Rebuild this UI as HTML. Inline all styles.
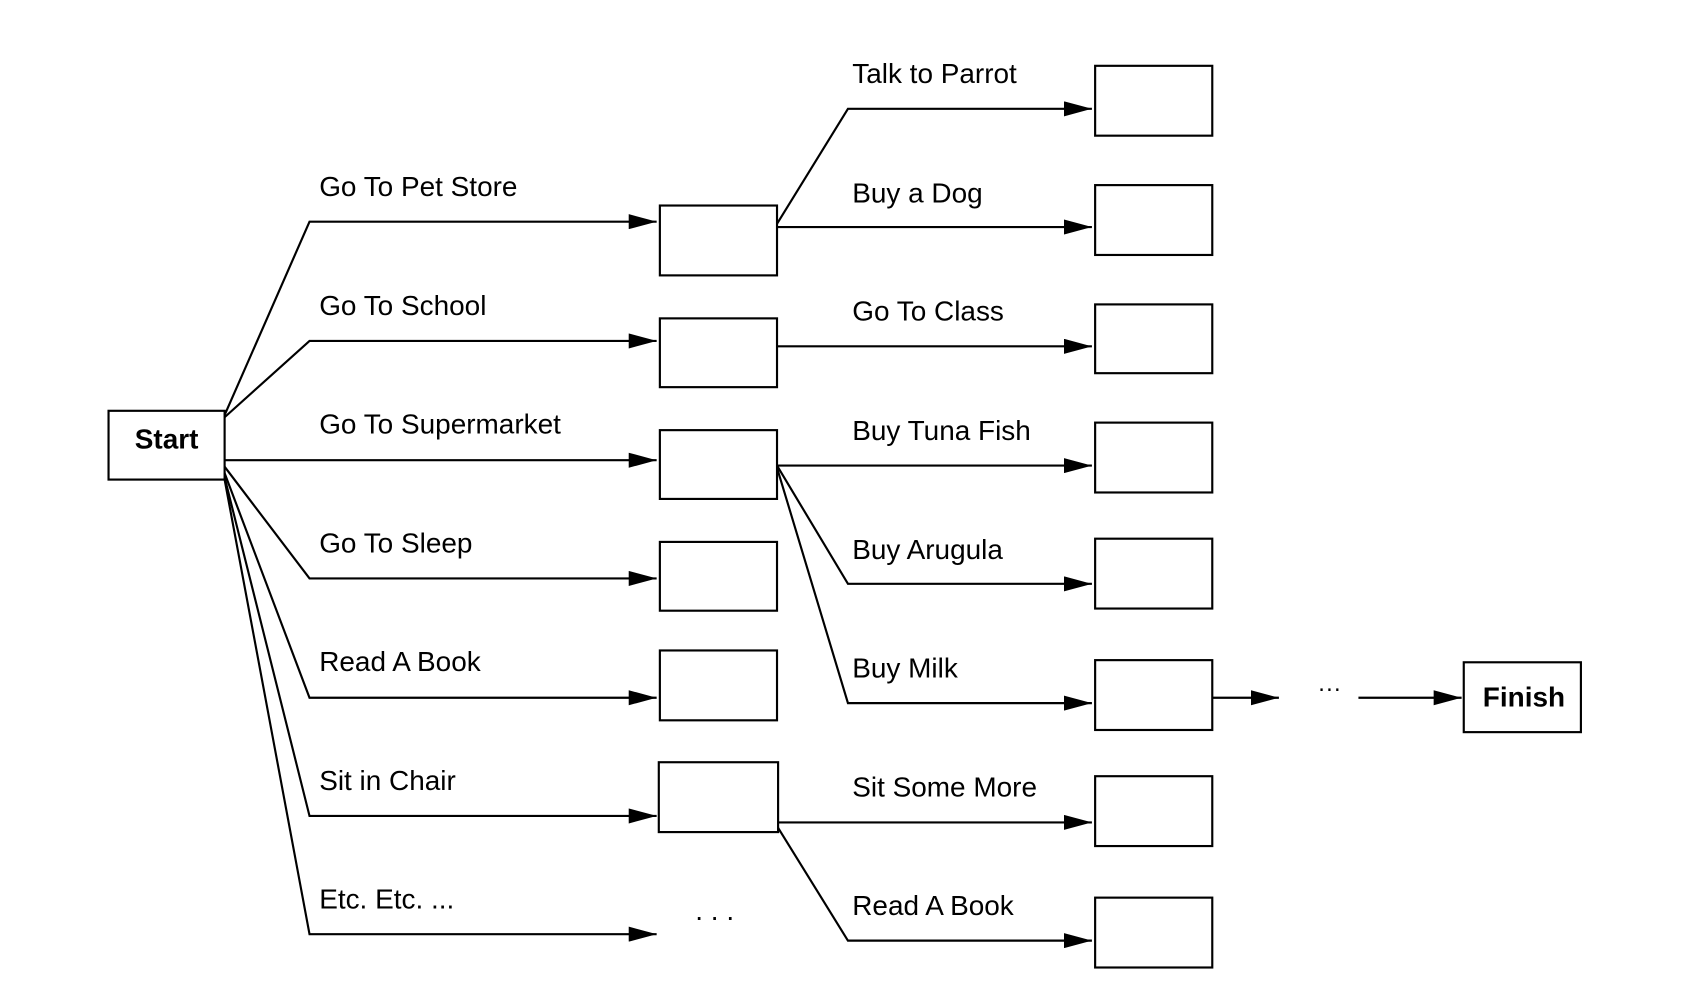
<!DOCTYPE html>
<html><head><meta charset="utf-8"><style>
html,body{margin:0;padding:0;background:#fff}
svg{display:block}
text{font-family:"Liberation Sans",sans-serif;font-size:26px;fill:#000}
</style></head><body>
<svg width="1683" height="1000" viewBox="0 0 1566 930" xmlns="http://www.w3.org/2000/svg">
<defs><marker id="a" markerWidth="26" markerHeight="14" refX="26" refY="7" orient="auto" markerUnits="userSpaceOnUse"><path d="M0,0 L26,7 L0,14 Z" fill="#000"/></marker></defs>
<g fill="none" stroke="#000" stroke-width="2">
<rect x="101" y="382" width="108" height="64"/>
<rect x="614" y="191" width="109" height="65"/>
<rect x="614" y="296" width="109" height="64"/>
<rect x="614" y="400" width="109" height="64"/>
<rect x="614" y="504" width="109" height="64"/>
<rect x="614" y="605" width="109" height="65"/>
<rect x="613" y="709" width="111" height="65"/>
<rect x="1019" y="61" width="109" height="65"/>
<rect x="1019" y="172" width="109" height="65"/>
<rect x="1019" y="283" width="109" height="64"/>
<rect x="1019" y="393" width="109" height="65"/>
<rect x="1019" y="501" width="109" height="65"/>
<rect x="1019" y="614" width="109" height="65"/>
<rect x="1019" y="722" width="109" height="65"/>
<rect x="1019" y="835" width="109" height="65"/>
<rect x="1362" y="616" width="109" height="65"/>
<g marker-end="url(#a)">
<polyline points="209,386 288,206 611,206"/>
<polyline points="209,388 288,317 611,317"/>
<polyline points="209,428 611,428"/>
<polyline points="209,434 288,538 611,538"/>
<polyline points="209,440 288,649 611,649"/>
<polyline points="209,444 288,759 611,759"/>
<polyline points="209,446 288,869 611,869"/>
<polyline points="723,208 789,101 1016,101"/>
<polyline points="723,211 1016,211"/>
<polyline points="723,322 1016,322"/>
<polyline points="723,433 1016,433"/>
<polyline points="723,433 789,543 1016,543"/>
<polyline points="723,435 789,654 1016,654"/>
<polyline points="724,765 1016,765"/>
<polyline points="724,770 789,875 1016,875"/>
<polyline points="1128,649 1190,649"/>
<polyline points="1264,649 1360,649"/>
</g></g>
<text x="155" y="417" text-anchor="middle" font-weight="bold">Start</text>
<text x="1418" y="657" text-anchor="middle" font-weight="bold">Finish</text>
<text x="297" y="182">Go To Pet Store</text>
<text x="297" y="293">Go To School</text>
<text x="297" y="403">Go To Supermarket</text>
<text x="297" y="514">Go To Sleep</text>
<text x="297" y="624">Read A Book</text>
<text x="297" y="735">Sit in Chair</text>
<text x="297" y="845">Etc. Etc. ...</text>
<text x="665" y="856" text-anchor="middle">. . .</text>
<text x="793" y="77">Talk to Parrot</text>
<text x="793" y="188">Buy a Dog</text>
<text x="793" y="298">Go To Class</text>
<text x="793" y="409">Buy Tuna Fish</text>
<text x="793" y="520">Buy Arugula</text>
<text x="793" y="630">Buy Milk</text>
<text x="793" y="741">Sit Some More</text>
<text x="793" y="851">Read A Book</text>
<text x="1237" y="648" text-anchor="middle" style="font-size:22px">···</text>
</svg>
</body></html>
